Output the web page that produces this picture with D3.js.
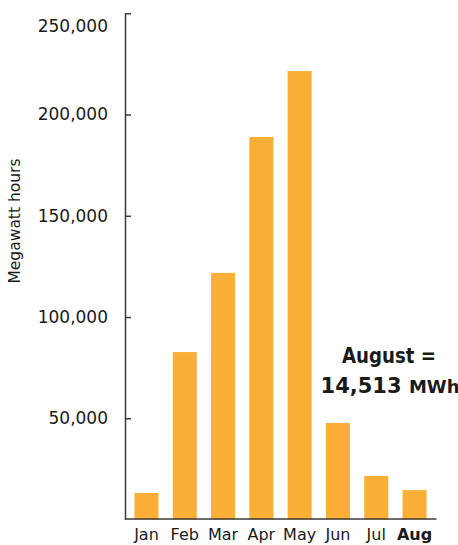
<!doctype html>
<html lang="en">
  <head>
    <meta charset="UTF-8" />
    <title>Megawatt hours by month</title>
    <style>
      body {
        margin: 0;
        background: #fff;
      }
      svg text {
        font-family: "DejaVu Sans", sans-serif;
        fill: #1a1a1a;
      }
    </style>
  </head>
  <body>
    <svg id="chart"></svg>
    <script src="https://d3js.org/d3.v7.min.js"></script>
    <script>
      /* global d3 */

      const months = ["Jan", "Feb", "Mar", "Apr", "May", "Jun", "Jul", "Aug"];
      const mwh = [13100, 82700, 121800, 188900, 221500, 47700, 21500, 14513];
      const yTicks = [50000, 100000, 150000, 200000, 250000];
      const highlight = "Aug";
      const noteLines = ["August =", "14,513", "MWh"];

      const width = 458,
        height = 545;
      const barColor = "#fbaf37";
      const axisColor = "#3a3a3a";

      const svg = d3
        .select("#chart")
        .attr("width", width)
        .attr("height", height)
        .attr("viewBox", [0, 0, width, height]);

      const x = d3
        .scaleBand()
        .domain(months)
        .range([125, 436])
        .paddingInner(0.373)
        .paddingOuter(0.2475);

      const y = d3.scaleLinear().domain([0, 250000]).range([519.5, 13.3]);

      // bars
      svg
        .append("g")
        .selectAll("rect")
        .data(months)
        .join("rect")
        .attr("x", (d) => x(d))
        .attr("width", x.bandwidth())
        .attr("y", (d, i) => y(mwh[i]))
        .attr("height", (d, i) => y(0) - y(mwh[i]))
        .attr("fill", barColor);

      // y axis, ticks point inward
      const yAxis = svg
        .append("g")
        .attr("transform", "translate(125,0)")
        .call(
          d3
            .axisLeft(y)
            .tickValues(yTicks)
            .tickSize(-6)
            .tickSizeOuter(0)
            .tickPadding(17)
            .tickFormat(d3.format(","))
        );
      yAxis.select(".domain").attr("stroke", axisColor).attr("stroke-width", 1.5);
      yAxis.selectAll(".tick line").attr("stroke", axisColor).attr("stroke-width", 1.5);
      yAxis
        .selectAll(".tick text")
        .attr("font-size", 17)
        .attr("fill", "#1a1a1a")
        .attr("dy", (d) => (d === 250000 ? "1.05em" : "0.32em"));

      // x axis
      const xAxis = svg
        .append("g")
        .attr("transform", "translate(0,518.5)")
        .call(d3.axisBottom(x).tickSize(0).tickPadding(10));
      xAxis.select(".domain").attr("stroke", axisColor).attr("stroke-width", 1.5);
      xAxis
        .selectAll(".tick text")
        .attr("font-size", 16)
        .attr("fill", "#1a1a1a")
        .attr("font-weight", (d) => (d === highlight ? "bold" : "normal"));

      // y label
      svg
        .append("text")
        .attr("transform", "translate(20,221) rotate(-90)")
        .attr("text-anchor", "middle")
        .attr("font-size", 15.5)
        .text("Megawatt hours");

      // annotation
      const note = svg
        .append("text")
        .attr("text-anchor", "middle")
        .attr("font-weight", "bold")
        .attr("font-size", 21);
      note
        .append("tspan")
        .attr("x", 389)
        .attr("y", 363)
        .attr("textLength", 94)
        .attr("lengthAdjust", "spacingAndGlyphs")
        .text(noteLines[0]);
      const l2 = note.append("tspan").attr("x", 390).attr("y", 393);
      l2.append("tspan").text(noteLines[1] + " ");
      l2.append("tspan").attr("font-size", 18).text(noteLines[2]);
    </script>
  </body>
</html>
